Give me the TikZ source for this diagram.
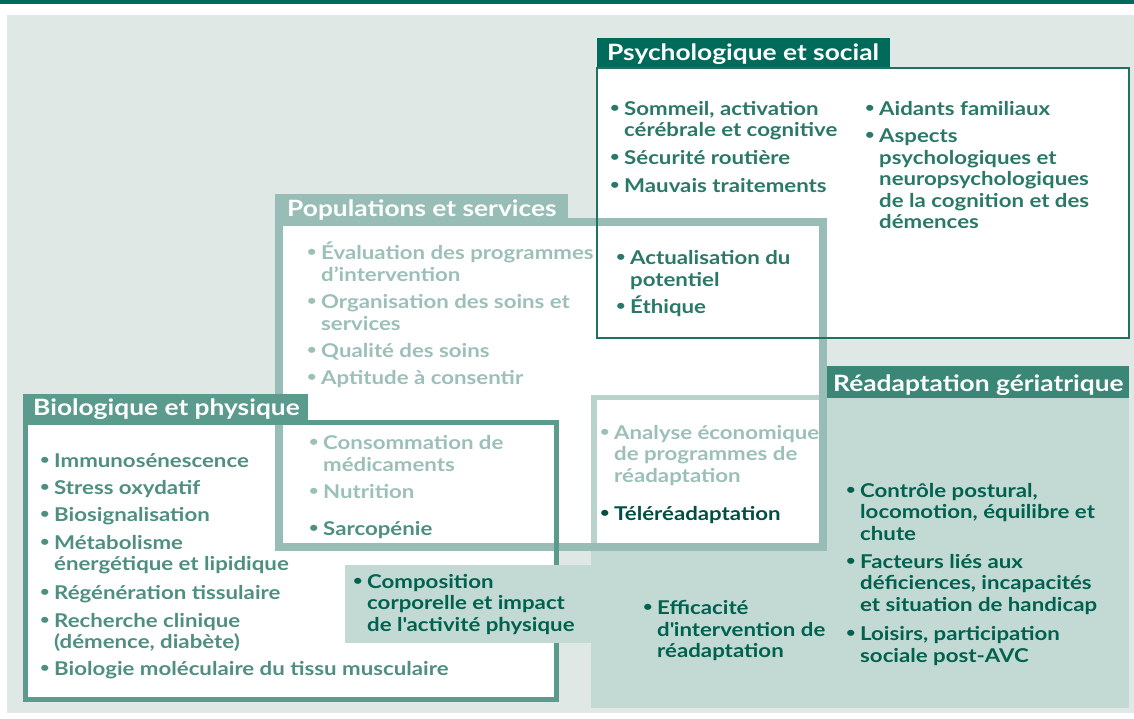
\documentclass[tikz,border=0pt]{standalone}
\usepackage{fontspec}
\setmainfont{Lato}[FakeStretch=1.17]
\definecolor{darkg}{HTML}{006B5B}
\definecolor{bgc}{HTML}{DFE8E4}
\definecolor{psytext}{HTML}{2A7868}
\definecolor{psyline}{HTML}{1F7262}
\definecolor{popc}{HTML}{97BDB6}
\definecolor{poptext}{HTML}{9CC0B9}
\definecolor{bioc}{HTML}{5B9B8D}
\definecolor{biotext}{HTML}{4E8F81}
\definecolor{readtab}{HTML}{3A8677}
\definecolor{readfill}{HTML}{C2D9D4}
\definecolor{readedge}{HTML}{B8D2CC}
\definecolor{readtext}{HTML}{00614F}
\definecolor{teletext}{HTML}{004F42}
\newcommand\bl{\makebox[14pt][l]{\raisebox{3pt}{\fontsize{14}{14}\selectfont •}}}
\newcommand\ind{\hspace*{14pt}}
\begin{document}
\begin{tikzpicture}[x=1pt,y=-1pt,
  body/.style={anchor=base west, inner sep=0pt, align=left, font=\bfseries\fontsize{19}{21.5}\selectfont},
  ttl/.style={anchor=base west, inner sep=0pt, text=white, font=\bfseries\fontsize{22.5}{26}\selectfont}]
\useasboundingbox (0,0) rectangle (1134,719);
\fill[white] (0,0) rectangle (1134,719);
\fill[darkg] (0,0) rectangle (1134,4.5);
\fill[bgc] (7,15) rectangle (1134,713);
% Psych fill and tab
\fill[white] (597,68) rectangle (1129,338);
\fill[darkg] (597,38) rectangle (890,68);
% Bio fill
\fill[white] (25,422) rectangle (556,699);
% Readaptation fill and tab
\fill[readfill] (591,398) rectangle (1129,708);
\fill[readtab] (825,366) rectangle (1129,398);
% Populations fill
\fill[white] (279,222) rectangle (823,547);
% intersection edge
\draw[readedge, line width=5.5pt] (594,547) -- (594,397.5) -- (823,397.5);
% Populations border and tab
\draw[popc, line width=7.5pt] (279,222) rectangle (823,547);
\fill[popc] (275,194) rectangle (568,222);
% Bio border and tab
\draw[bioc, line width=5pt] (25,422) rectangle (556,699);
\fill[bioc] (22.5,394) rectangle (308,422);
% Psych border
\draw[psyline, line width=1.5pt] (597,68) rectangle (1129,338);
% Composition extension
\fill[readfill] (345,565) rectangle (593,643);
% titles
\node[ttl] (tpsy) at (607,61) {Psychologique et social};
\node[ttl] (tpop) at (287,217) {Populations et services};
\node[ttl] (tbio) at (33,415) {Biologique et physique};
\node[ttl] (trea) at (833,391) {Réadaptation gériatrique};
% Psych items (base = last line)
\node[body, text=psytext] (ps1) at (610,137) {\bl Sommeil, activation\\\ind cérébrale et cognitive};
\node[body, text=psytext] (ps2) at (610,164.5) {\bl Sécurité routière};
\node[body, text=psytext] (ps3) at (610,192.5) {\bl Mauvais traitements};
\node[body, text=psytext] (ps4) at (865,115.5) {\bl Aidants familiaux};
\node[body, text=psytext] (ps5) at (865,229) {\bl Aspects\\\ind psychologiques et\\\ind neuropsychologiques\\\ind de la cognition et des\\\ind démences};
\node[body, text=psytext] (ps6) at (616,286) {\bl Actualisation du\\\ind potentiel};
\node[body, text=psytext] (ps7) at (616,313.5) {\bl Éthique};
% Populations items
\node[body, text=poptext] (po1) at (307,281) {\bl Évaluation des programmes\\\ind d’intervention};
\node[body, text=poptext] (po2) at (307,330) {\bl Organisation des soins et\\\ind services};
\node[body, text=poptext] (po3) at (307,357.5) {\bl Qualité des soins};
\node[body, text=poptext] (po4) at (307,384.5) {\bl Aptitude à consentir};
\node[body, text=poptext] (po5) at (309,471) {\bl Consommation de\\\ind médicaments};
\node[body, text=poptext] (po6) at (309,498.5) {\bl Nutrition};
\node[body, text=biotext] (po7) at (309,535.5) {\bl Sarcopénie};
% Bio items
\node[body, text=biotext] (bi1) at (40,467.5) {\bl Immunosénescence};
\node[body, text=biotext] (bi2) at (40,494.5) {\bl Stress oxydatif};
\node[body, text=biotext] (bi3) at (40,521.5) {\bl Biosignalisation};
\node[body, text=biotext] (bi4) at (40,570.5) {\bl Métabolisme\\\ind énergétique et lipidique};
\node[body, text=biotext] (bi5) at (40,599.5) {\bl Régénération tissulaire};
\node[body, text=biotext] (bi6) at (40,648.5) {\bl Recherche clinique\\\ind (démence, diabète)};
\node[body, text=biotext] (bi7) at (40,675.5) {\bl Biologie moléculaire du tissu musculaire};
% Composition
\node[body, text=readtext] (co1) at (353,631) {\bl Composition\\\ind corporelle et impact\\\ind de l\textquotesingle activité physique};
% Readaptation items
\node[body, text=poptext] (re1) at (600,482) {\bl Analyse économique\\\ind de programmes de\\\ind réadaptation};
\node[body, text=teletext] (re2) at (600,520.5) {\bl Téléréadaptation};
\node[body, text=readtext] (re3) at (643,657.5) {\bl Efficacité\\\ind d\textquotesingle intervention de\\\ind réadaptation};
\node[body, text=readtext] (re4) at (846,540) {\bl Contrôle postural,\\\ind locomotion, équilibre et\\\ind chute};
\node[body, text=readtext] (re5) at (846,611) {\bl Facteurs liés aux\\\ind déficiences, incapacités\\\ind et situation de handicap};
\node[body, text=readtext] (re6) at (846,662) {\bl Loisirs, participation\\\ind sociale post-AVC};
\end{tikzpicture}
\end{document}
